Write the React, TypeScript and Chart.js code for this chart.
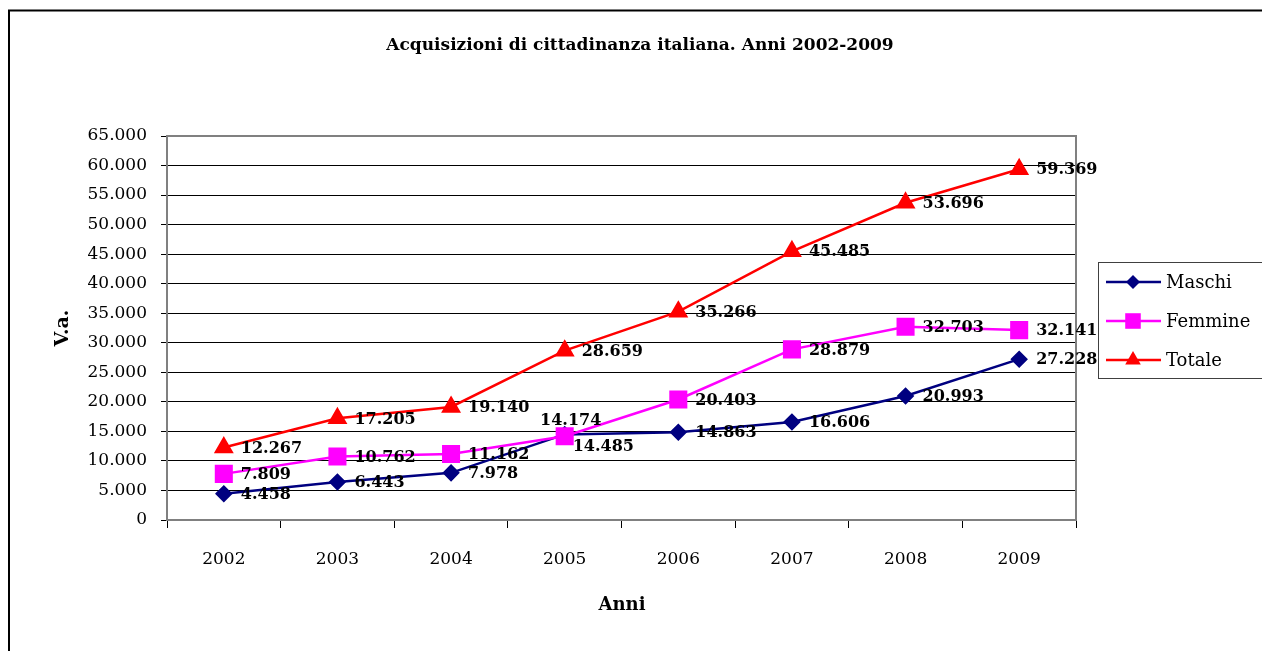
import React, { useEffect, useRef } from "react";
import { Chart, registerables } from "chart.js";

Chart.register(...registerables);

const years = ["2002", "2003", "2004", "2005", "2006", "2007", "2008", "2009"];
const maschi = [4458, 6443, 7978, 14485, 14863, 16606, 20993, 27228];
const femmine = [7809, 10762, 11162, 14174, 20403, 28879, 32703, 32141];
const totale = [12267, 17205, 19140, 28659, 35266, 45485, 53696, 59369];
const seriesNames = ["Maschi", "Femmine", "Totale"];

const titleText = "Acquisizioni di cittadinanza italiana. Anni 2002-2009";
const yTitle = "V.a.";
const xTitle = "Anni";
const yMax = 65000;
const yStep = 5000;

// label placement (style config)
const labelPlacement: string[][] = [
  ["right", "right", "right", "belowRight", "right", "right", "right", "right"],
  ["right", "right", "right", "above", "right", "right", "right", "right"],
  ["right", "right", "right", "right", "right", "right", "right", "right"],
];

const FONT = "'DejaVu Serif', serif";

function fmt(v: number): string {
  return Math.round(v)
    .toString()
    .replace(/\B(?=(\d{3})+(?!\d))/g, ".");
}

function drawMarker(ctx: CanvasRenderingContext2D, style: string, x: number, y: number, r: number, color: string) {
  ctx.save();
  ctx.fillStyle = color;
  ctx.beginPath();
  if (style === "rectRot") {
    ctx.moveTo(x, y - r);
    ctx.lineTo(x + r, y);
    ctx.lineTo(x, y + r);
    ctx.lineTo(x - r, y);
  } else if (style === "rect") {
    const s = Math.SQRT1_2 * r;
    ctx.rect(x - s, y - s, 2 * s, 2 * s);
  } else {
    ctx.moveTo(x, y - r);
    ctx.lineTo(x + 0.866 * r, y + 0.5 * r);
    ctx.lineTo(x - 0.866 * r, y + 0.5 * r);
  }
  ctx.closePath();
  ctx.fill();
  ctx.restore();
}

const decorPlugin = {
  id: "decor",
  beforeDraw(chart: any) {
    const ctx = chart.ctx as CanvasRenderingContext2D;
    ctx.save();
    ctx.fillStyle = "#fff";
    ctx.fillRect(0, 0, chart.width, chart.height);
    ctx.strokeStyle = "#000";
    ctx.lineWidth = 2;
    ctx.beginPath();
    ctx.moveTo(9, chart.height + 5);
    ctx.lineTo(9, 10.5);
    ctx.lineTo(chart.width + 5, 10.5);
    ctx.stroke();

    ctx.fillStyle = "#000";
    ctx.textAlign = "center";
    ctx.textBaseline = "middle";
    ctx.font = `bold 17px ${FONT}`;
    ctx.fillText(titleText, 640, 46);
    ctx.font = `bold 18px ${FONT}`;
    ctx.fillText(xTitle, 622, 605);
    ctx.translate(63, 328);
    ctx.rotate(-Math.PI / 2);
    ctx.font = `bold 19px ${FONT}`;
    ctx.fillText(yTitle, 0, 0);
    ctx.restore();
  },
  beforeDatasetsDraw(chart: any) {
    const ctx = chart.ctx as CanvasRenderingContext2D;
    const a = chart.chartArea;
    ctx.save();
    ctx.strokeStyle = "#808080";
    ctx.lineWidth = 2;
    ctx.strokeRect(a.left, a.top, a.right - a.left, a.bottom - a.top);
    ctx.restore();
  },
  afterDatasetsDraw(chart: any) {
    const ctx = chart.ctx as CanvasRenderingContext2D;
    ctx.save();
    ctx.font = `bold 16px ${FONT}`;
    ctx.fillStyle = "#000";
    ctx.textBaseline = "middle";
    chart.data.datasets.forEach((ds: any, di: number) => {
      const meta = chart.getDatasetMeta(di);
      meta.data.forEach((el: any, i: number) => {
        const txt = fmt(ds.data[i]);
        const pos = labelPlacement[di][i];
        if (pos === "above") {
          ctx.textAlign = "center";
          ctx.fillText(txt, el.x + 6, el.y - 15);
        } else if (pos === "belowRight") {
          ctx.textAlign = "left";
          ctx.fillText(txt, el.x + 8, el.y + 12);
        } else {
          ctx.textAlign = "left";
          ctx.fillText(txt, el.x + 17, el.y + 1);
        }
      });
    });
    ctx.restore();

    // legend
    ctx.save();
    const bx = 1098.5, by = 262.5, bw = 170, bh = 116;
    ctx.fillStyle = "#fff";
    ctx.fillRect(bx, by, bw, bh);
    ctx.strokeStyle = "#404040";
    ctx.lineWidth = 1;
    ctx.strokeRect(bx, by, bw, bh);
    ctx.font = `18px ${FONT}`;
    ctx.textAlign = "left";
    ctx.textBaseline = "middle";
    const rows = [282, 321, 360];
    chart.data.datasets.forEach((ds: any, di: number) => {
      const y = rows[di];
      ctx.strokeStyle = ds.borderColor;
      ctx.lineWidth = 2.5;
      ctx.beginPath();
      ctx.moveTo(1106, y);
      ctx.lineTo(1161, y);
      ctx.stroke();
      drawMarker(ctx, ds.pointStyle, 1133, y, ds.pointRadius, ds.backgroundColor);
      ctx.fillStyle = "#000";
      ctx.fillText(ds.label, 1166, y + 1);
    });
    ctx.restore();
  },
};

export default function App() {
  const ref = useRef<HTMLCanvasElement | null>(null);
  useEffect(() => {
    document.body.style.margin = "0";
    document.body.style.overflow = "hidden";
    const canvas = ref.current!;
    const tickFont = { family: FONT, size: 17 };
    const chart = new Chart(canvas, {
      type: "line",
      data: {
        labels: years,
        datasets: [
          {
            label: seriesNames[0],
            data: maschi,
            borderColor: "#000080",
            backgroundColor: "#000080",
            pointBackgroundColor: "#000080",
            pointBorderColor: "#000080",
            pointStyle: "rectRot",
            pointRadius: 7,
            borderWidth: 2.5,
            order: 2,
          },
          {
            label: seriesNames[1],
            data: femmine,
            borderColor: "#FF00FF",
            backgroundColor: "#FF00FF",
            pointBackgroundColor: "#FF00FF",
            pointBorderColor: "#FF00FF",
            pointStyle: "rect",
            pointRadius: 11,
            borderWidth: 2.5,
            order: 1,
          },
          {
            label: seriesNames[2],
            data: totale,
            borderColor: "#FF0000",
            backgroundColor: "#FF0000",
            pointBackgroundColor: "#FF0000",
            pointBorderColor: "#FF0000",
            pointStyle: "triangle",
            pointRadius: 9,
            borderWidth: 2.5,
            order: 0,
          },
        ] as any,
      },
      options: {
        responsive: false,
        animation: false,
        devicePixelRatio: 1,
        layout: { padding: { left: 0, top: 136, right: 186, bottom: 0 } },
        plugins: { legend: { display: false }, title: { display: false }, tooltip: { enabled: false } },
        elements: { line: { tension: 0 }, point: { borderWidth: 1 } },
        scales: {
          x: {
            offset: true,
            grid: { offset: true, drawOnChartArea: false, drawTicks: true, tickLength: 8, color: "#000", lineWidth: 1 },
            border: { color: "#808080", width: 2 },
            ticks: { font: tickFont, color: "#000", padding: 21, maxRotation: 0, autoSkip: false },
            afterFit: (s: any) => {
              s.height = 131;
            },
          },
          y: {
            min: 0,
            max: yMax,
            ticks: { stepSize: yStep, font: tickFont, color: "#000", padding: 14, callback: (v: any) => fmt(Number(v)) },
            grid: { color: "#000", lineWidth: 1, tickLength: 6 },
            border: { color: "#808080", width: 2 },
            afterFit: (s: any) => {
              s.width = 167;
            },
          },
        },
      } as any,
      plugins: [decorPlugin],
    });
    return () => chart.destroy();
  }, []);
  return (
    <div style={{ width: 1262, height: 651 }}>
      <canvas ref={ref} width={1262} height={651} style={{ display: "block" }} />
    </div>
  );
}
